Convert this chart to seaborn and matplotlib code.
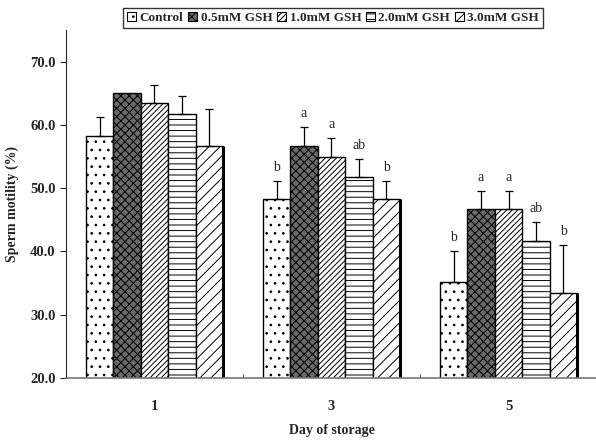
import numpy as np
import pandas as pd
import matplotlib
matplotlib.use("Agg")
import matplotlib.pyplot as plt
import matplotlib.patches as mpatches
import seaborn as sns

days = ["1", "3", "5"]
treatments = ["Control", "0.5mM GSH", "1.0mM GSH", "2.0mM GSH", "3.0mM GSH"]
# mean motility per treatment, one list per day
day1 = [58.3, 65.0, 63.4, 61.7, 56.6]
day3 = [48.3, 56.7, 54.9, 51.7, 48.3]
day5 = [35.1, 46.7, 46.7, 41.6, 33.4]
# upper error (SD)
err1 = [2.9, 0.0, 2.9, 2.8, 5.9]
err3 = [2.9, 2.9, 3.0, 2.9, 2.9]
err5 = [5.0, 2.9, 2.9, 3.0, 7.6]
# significance letters
let1 = ["", "", "", "", ""]
let3 = ["b", "a", "a", "ab", "b"]
let5 = ["b", "a", "a", "ab", "b"]

hatches = ["..", "xxxx", "//////", "---", "///"]
faces = ["white", "#6a6a6a", "white", "white", "white"]

rows = []
for d, vals, errs, lets in zip(days, [day1, day3, day5], [err1, err3, err5], [let1, let3, let5]):
    for t, v, e, l in zip(treatments, vals, errs, lets):
        rows.append({"Day": d, "Treatment": t, "Motility": v, "Err": e, "Letter": l})
df = pd.DataFrame(rows)

sns.set_style("ticks")
plt.rcParams["font.family"] = ["Liberation Serif", "DejaVu Serif"]
plt.rcParams["font.weight"] = "bold"
plt.rcParams["hatch.linewidth"] = 0.7

fig = plt.figure(figsize=(5.96, 4.4), dpi=100)
ax = fig.add_axes([0.1107, 0.141, 0.891, 0.791])

sns.barplot(data=df, x="Day", y="Motility", hue="Treatment", order=days,
            hue_order=treatments, errorbar=None, width=0.775, ax=ax,
            palette=["white"] * 5, edgecolor="black", linewidth=1.0,
            legend=False, saturation=1)

bars = ax.patches[:15]
for i, p in enumerate(bars):
    k = i // 3
    p.set_hatch(hatches[k])
    p.set_facecolor(faces[k])

# upper error bars and letters
for i, p in enumerate(bars):
    k, j = i // 3, i % 3
    row = df[(df["Day"] == days[j]) & (df["Treatment"] == treatments[k])].iloc[0]
    xc = p.get_x() + p.get_width() / 2
    top = p.get_height()
    if row["Err"] > 0:
        ax.errorbar(xc, top, yerr=[[0], [row["Err"]]], fmt="none", ecolor="black",
                    elinewidth=0.9, capsize=3, capthick=0.9)
    if row["Letter"]:
        ax.annotate(row["Letter"], (xc, top + row["Err"]), xytext=(0, 5),
                    textcoords="offset points", ha="center", va="bottom",
                    fontsize=10, fontweight="normal")
    if k == 4:
        ax.plot([p.get_x() + p.get_width()] * 2, [20, top], color="black", lw=2.2,
                solid_capstyle="butt")

ax.set_ylim(20, 75)
ax.set_xlim(-0.5, 2.5)
ax.set_yticks([20, 30, 40, 50, 60, 70])
ax.set_yticklabels(["%.1f" % v for v in [20, 30, 40, 50, 60, 70]], fontsize=10.5)
ax.set_xticks([0, 1, 2])
ax.set_xticklabels(days, fontsize=10.5)
ax.tick_params(axis="x", which="major", length=0, pad=16)
ax.set_xticks([0.5, 1.5], minor=True)
ax.tick_params(axis="x", which="minor", length=3, direction="in")
ax.tick_params(axis="y", length=4, width=0.8)
sns.despine(ax=ax, top=True, right=True)
ax.spines["left"].set_linewidth(0.8)
ax.spines["bottom"].set_color("#777777")
ax.spines["bottom"].set_linewidth(1.2)

ax.set_ylabel("Sperm motility (%)", fontsize=10, fontweight="bold", labelpad=8)
ax.set_xlabel("Day of storage", fontsize=10, fontweight="bold", labelpad=8)

handles = [mpatches.Patch(facecolor=f, edgecolor="black", hatch=h, linewidth=0.8)
           for f, h in zip(faces, hatches)]
leg = fig.legend(handles, treatments, loc="center", bbox_to_anchor=(0.559, 0.959),
                 ncol=5, frameon=True, fancybox=False, edgecolor="black",
                 fontsize=9.5, handlelength=0.7, handleheight=0.7,
                 handletextpad=0.25, columnspacing=0.35, borderpad=0.3,
                 borderaxespad=0)
leg.get_frame().set_linewidth(1.0)

fig.savefig("out.png", dpi=100)
